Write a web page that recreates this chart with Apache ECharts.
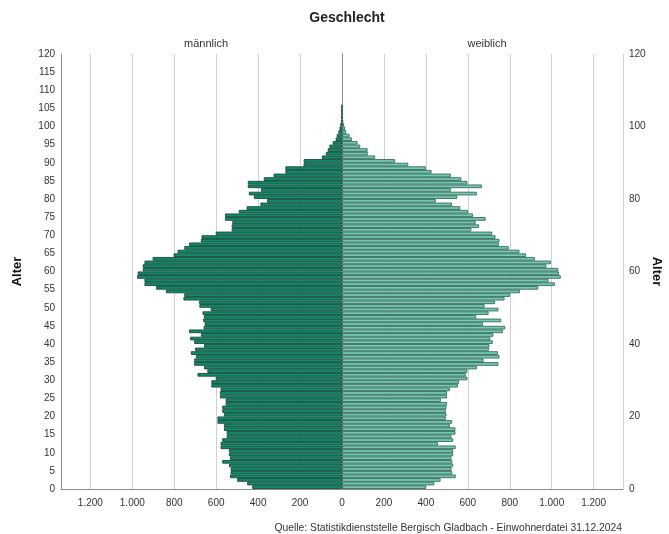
<!DOCTYPE html>
<html style="height: 100%">
<head>
 <meta charset="utf-8">
 <title>Bevölkerungspyramide</title>
 <script src="https://cdn.jsdelivr.net/npm/echarts/dist/echarts.min.js"></script>
</head>
<body style="height: 100%; margin: 0; background: #fff">
 <div id="main" style="width: 669px; height: 534px"></div>
 <script type="text/javascript">
 // Alter 0 .. 105, Einwohner je Altersjahr
 var ages = [];
 for (var i = 0; i < 120; i++) ages.push(String(i));

 var maennlich = [
  428, 452, 500, 534, 531, 531, 539, 571, 534, 539,
  539, 579, 579, 571, 550, 550, 563, 563, 594, 594,
  563, 571, 571, 555, 555, 582, 582, 579, 623, 623,
  602, 689, 642, 658, 705, 705, 697, 721, 700, 658,
  705, 724, 673, 729, 660, 655, 662, 658, 665, 626,
  680, 681, 756, 752, 840, 887, 942, 942, 977, 974,
  950, 950, 942, 903, 803, 784, 752, 729, 673, 670,
  602, 526, 526, 523, 558, 558, 492, 455, 389, 357,
  420, 444, 386, 449, 449, 373, 326, 270, 270, 183,
  183, 96, 77, 68, 60, 44, 30, 25, 17, 12,
  8, 5, 3, 2, 1, 1
 ];

 var weiblich = [
  400, 440, 470, 542, 525, 522, 530, 526, 522, 530,
  530, 542, 458, 530, 522, 541, 541, 514, 525, 495,
  498, 495, 498, 501, 471, 501, 501, 514, 553, 558,
  598, 590, 598, 643, 746, 675, 751, 743, 700, 703,
  719, 707, 722, 767, 778, 672, 759, 640, 699, 746,
  680, 730, 775, 801, 849, 936, 1015, 985, 1043, 1035,
  1031, 975, 996, 920, 877, 846, 795, 748, 751, 732,
  716, 617, 653, 637, 685, 625, 601, 564, 525, 447,
  549, 643, 519, 667, 598, 569, 519, 427, 400, 316,
  253, 158, 123, 122, 87, 74, 47, 36, 20, 15,
  10, 6, 4, 2, 1, 1
 ];

 var font = 'Liberation Sans';

 function fmt(v) {
  if (v >= 1000) {
   return Math.floor(v / 1000) + '.' + String(v % 1000).padStart(3, '0');
  }
  return String(v);
 }

 var myChart = echarts.init(document.getElementById('main'));

 var xCommon = {
  type: 'value',
  min: 0,
  max: 1340,
  interval: 200,
  axisLine: { show: true, lineStyle: { color: '#8c8c8c', width: 1 } },
  axisTick: { show: false },
  axisLabel: {
   color: '#333',
   fontSize: 10,
   fontFamily: font,
   margin: 9,
   showMaxLabel: false,
   formatter: fmt
  },
  splitLine: { show: true, lineStyle: { color: '#d0d0d0', width: 1 } }
 };

 var option = {
  backgroundColor: '#fff',
  animation: false,
  textStyle: { fontFamily: font },
  title: [
   { text: 'Geschlecht', left: 342, top: 6, textAlign: 'center',
     textStyle: { fontSize: 14, fontWeight: 'bold', color: '#222', fontFamily: font } },
   { text: 'männlich', left: 201, top: 33, textAlign: 'center',
     textStyle: { fontSize: 11, fontWeight: 'normal', color: '#333', fontFamily: font } },
   { text: 'weiblich', left: 482, top: 33, textAlign: 'center',
     textStyle: { fontSize: 11, fontWeight: 'normal', color: '#333', fontFamily: font } }
  ],
  grid: [
   { left: 61, width: 281, top: 54, height: 435 },
   { left: 342, width: 281, top: 54, height: 435 }
  ],
  xAxis: [
   Object.assign({}, xCommon, { gridIndex: 0, inverse: true }),
   Object.assign({}, xCommon, { gridIndex: 1,
     axisLabel: Object.assign({}, xCommon.axisLabel, { showMinLabel: false }) })
  ],
  yAxis: [
   { type: 'category', gridIndex: 0, data: ages, show: false },
   { type: 'value', gridIndex: 0, position: 'left', min: 0, max: 120, interval: 5,
     name: 'Alter', nameLocation: 'middle', nameRotate: 90, nameGap: 37,
     nameTextStyle: { fontSize: 13, fontWeight: 'bold', color: '#111', fontFamily: font },
     axisLine: { show: true, lineStyle: { color: '#8c8c8c' } },
     axisTick: { show: false },
     axisLabel: { color: '#333', fontSize: 10, fontFamily: font, margin: 6 },
     splitLine: { show: false } },
   { type: 'category', gridIndex: 1, data: ages, position: 'left',
     axisLine: { show: true, onZero: false, lineStyle: { color: '#111', width: 1 } },
     axisTick: { show: false }, axisLabel: { show: false }, splitLine: { show: false } },
   { type: 'value', gridIndex: 1, position: 'right', min: 0, max: 120, interval: 20,
     name: 'Alter', nameLocation: 'middle', nameRotate: -90, nameGap: 22,
     nameTextStyle: { fontSize: 13, fontWeight: 'bold', color: '#111', fontFamily: font },
     axisLine: { show: true, lineStyle: { color: '#8c8c8c' } },
     axisTick: { show: false },
     axisLabel: { color: '#333', fontSize: 10, fontFamily: font, margin: 6 },
     splitLine: { show: false } }
  ],
  series: [
   {
    name: 'männlich', type: 'bar', xAxisIndex: 0, yAxisIndex: 0,
    data: maennlich, barCategoryGap: '0%',
    itemStyle: { color: '#0f8e6e', borderColor: '#15463a', borderWidth: 0.9 }
   },
   {
    name: 'weiblich', type: 'bar', xAxisIndex: 1, yAxisIndex: 2,
    data: weiblich, barCategoryGap: '0%',
    itemStyle: { color: '#74cab3', borderColor: '#35695c', borderWidth: 0.9 }
   }
  ],
  graphic: [
   { type: 'text', right: 47, top: 523,
     style: { text: 'Quelle: Statistikdienststelle Bergisch Gladbach - Einwohnerdatei 31.12.2024',
       font: '10.3px "Liberation Sans"', fill: '#333' } }
  ]
 };

 myChart.setOption(option);
 </script>
</body>
</html>
